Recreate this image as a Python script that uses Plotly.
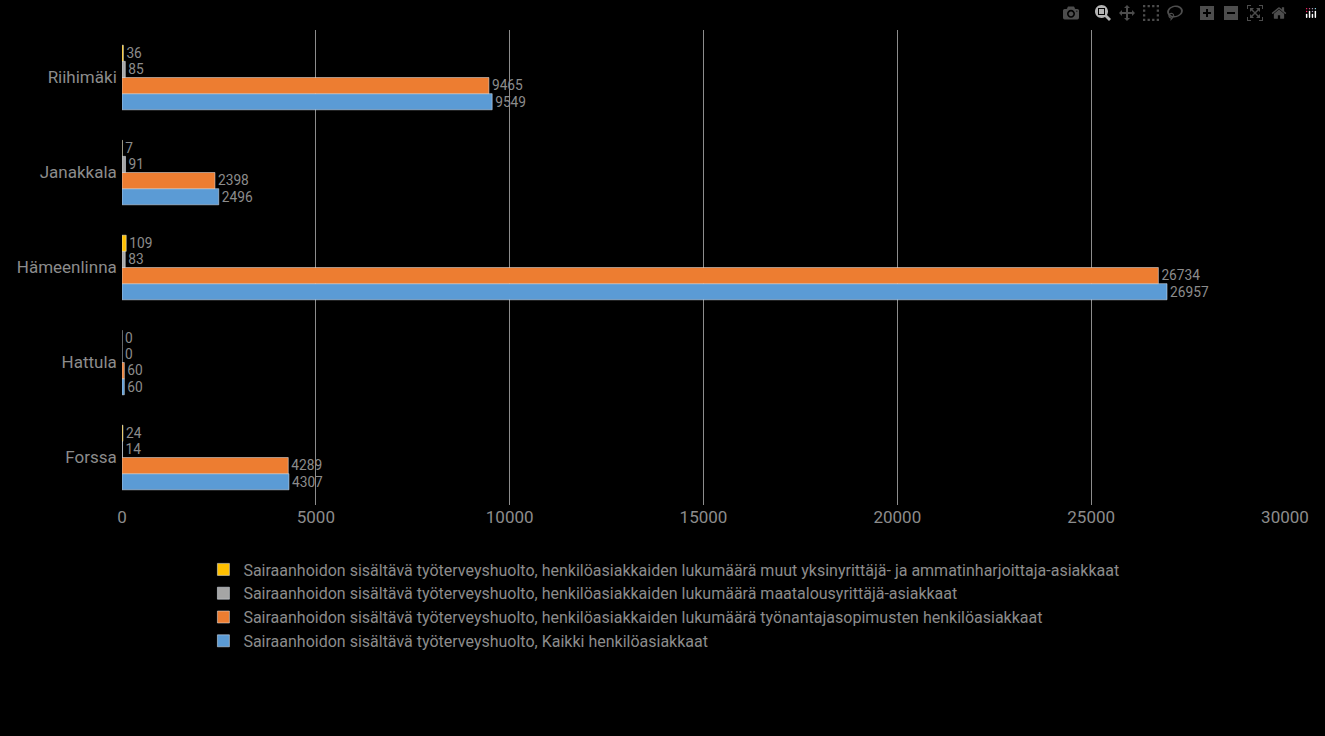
import plotly.graph_objects as go

categories = ["Forssa", "Hattula", "Hämeenlinna", "Janakkala", "Riihimäki"]
kaikki = [4307, 60, 26957, 2496, 9549]
tyonantaja = [4289, 60, 26734, 2398, 9465]
maatalous = [14, 0, 83, 91, 85]
muut = [24, 0, 109, 7, 36]
names = [
    "Sairaanhoidon sisältävä työterveyshuolto, Kaikki henkilöasiakkaat",
    "Sairaanhoidon sisältävä työterveyshuolto, henkilöasiakkaiden lukumäärä työnantajasopimusten henkilöasiakkaat",
    "Sairaanhoidon sisältävä työterveyshuolto, henkilöasiakkaiden lukumäärä maatalousyrittäjä-asiakkaat",
    "Sairaanhoidon sisältävä työterveyshuolto, henkilöasiakkaiden lukumäärä muut yksinyrittäjä- ja ammatinharjoittaja-asiakkaat",
]
colors = ["#5B9BD5", "#ED7D31", "#A5A5A5", "#FFC000"]
series = [kaikki, tyonantaja, maatalous, muut]

font = "Liberation Sans Narrow, Roboto, Liberation Sans, Arial"
fig = go.Figure()
for i, (n, c, v) in enumerate(zip(names, colors, series)):
    fig.add_trace(go.Bar(y=categories, x=v, name=n, orientation="h", marker_color=c,
                         legendgroup=f"g{i}",
                         text=[str(x) for x in v], textposition="outside",
                         textfont=dict(color="#8c8c8c", size=17, family=font),
                         cliponaxis=False))
fig.update_layout(
    width=1325, height=736, barmode="group", bargap=0.32, bargroupgap=0,
    paper_bgcolor="black", plot_bgcolor="black",
    margin=dict(l=122, r=40, t=30, b=231),
    font=dict(family=font, color="#8c8c8c", size=17),
    xaxis=dict(range=[0, 30000], tickvals=[0, 5000, 10000, 15000, 20000, 25000, 30000],
               tickformat="d",
               showgrid=True, gridcolor="#8c8c8c", gridwidth=1, zeroline=False,
               tickfont=dict(size=17, color="#8c8c8c")),
    yaxis=dict(showgrid=False, tickfont=dict(size=17, color="#8c8c8c"), ticksuffix=" "),
    legend=dict(orientation="v", traceorder="reversed", x=0.07, y=-0.1, xanchor="left", yanchor="top",
                font=dict(size=16, color="#8c8c8c"), tracegroupgap=20, itemwidth=30),
    showlegend=True,
)
fig.write_html("out.html",
               post_script="document.body.style.margin='0';document.body.style.background='black';document.body.style.overflow='hidden';")
